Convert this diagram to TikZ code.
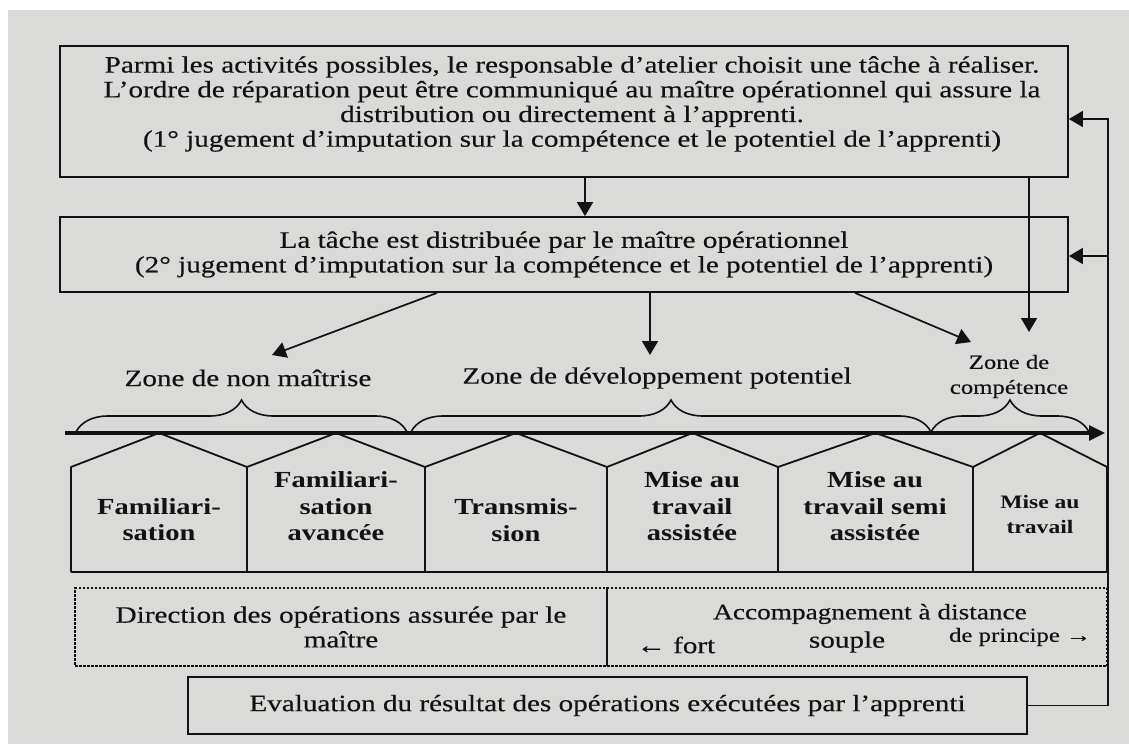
\documentclass[tikz,border=0pt]{standalone}
\usepackage{fontspec}
\setmainfont{Liberation Serif}[FakeStretch=1.24,UprightFeatures={FakeBold=0.35}]
\usetikzlibrary{arrows.meta,decorations.pathreplacing}
\definecolor{paper}{HTML}{DADAD8}
\definecolor{ink}{HTML}{121212}

\begin{document}
\begin{tikzpicture}[x=1pt,y=-1pt,color=ink,
    box/.style={draw,line width=1.8pt,inner sep=0pt},
    dbox/.style={draw,dash pattern=on 2.5pt off 1.5pt,line width=1.1pt,inner sep=0pt},
    arr/.style={line width=1.7pt,-{Triangle[length=14pt,width=16pt]}},
    txt/.style={align=center,font=\fontsize{23.5}{24.7}\selectfont},
    house/.style={align=center,font=\fontsize{23}{26.5}\selectfont\bfseries},
    zbrace/.style={decorate,decoration={brace,amplitude=32pt},line width=1.6pt}]
    \fill[white] (0,0) rectangle (1129,744);
    \fill[paper] (8,10) rectangle (1129,744);
    \useasboundingbox (0,0) rectangle (1129,744);

    % the two boxes at the top
    \node (choix) [box,minimum width=1008pt,minimum height=131pt] at (564,111.5) {};
    \node (choixTxt) [txt] at (572,104) {Parmi les activités possibles, le responsable d'atelier choisit une tâche à réaliser.\\
        L'ordre de réparation peut être communiqué au maître opérationnel qui assure la\\
        distribution ou directement à l'apprenti.\\
        (1° jugement d'imputation sur la compétence et le potentiel de l'apprenti)};
    \node (distrib) [box,txt,minimum width=1008pt,minimum height=75pt] at (564,254.5) {La tâche est distribuée par le maître opérationnel\\
        (2° jugement d'imputation sur la compétence et le potentiel de l'apprenti)};
    \draw[arr] (choix.south -| 585,0) -- (distrib.north -| 585,0);

    % zones
    \node (zNon) [txt] at (248,378) {Zone de non maîtrise};
    \node (zDev) [txt] at (657,378) {Zone de développement potentiel};
    \node (zComp) [align=center,font=\fontsize{20}{25}\selectfont] at (1009,376.5) {Zone de\\ compétence};
    \coordinate (tNon) at (272,355);
    \coordinate (tDev) at (650,355);
    \coordinate (tComp) at (971,342);
    \coordinate (tFin) at (1029,332);
    \draw[arr] (distrib.south -| 437,0) -- (tNon);
    \draw[arr] (distrib.south -| 650,0) -- (tDev);
    \draw[arr] (distrib.south -| 855,0) -- (tComp);
    \draw[arr] (choix.south -| 1029,0) -- (tFin);

    \draw[zbrace] (76,432) -- (407,432);
    \draw[zbrace] (411,432) -- (931,432);
    \draw[zbrace] (931,432) -- (1089,432);
    \draw[line width=3.2pt,-{Triangle[length=16pt,width=15pt]}] (65,433) -- (1105,433);

    % houses
    \foreach \l/\r in {71/247,247/425,425/607,607/778,778/973,973/1107}
        \draw[line width=1.8pt,line join=round] (\l,572) -- (\l,467) -- ({(\l+\r)/2},433) -- (\r,467) -- (\r,572);
    \draw[line width=1.8pt] (71,572) -- (1107,572);
    \node (h1) [house] at (159,519.5) {Familiari-\\sation};
    \node (h2) [house] at (336,506.5) {Familiari-\\sation\\avancée};
    \node (h3) [house] at (516,520) {Transmis-\\sion};
    \node (h4) [house] at (692,506.5) {Mise au\\travail\\assistée};
    \node (h5) [house] at (875,506.5) {Mise au\\travail semi\\assistée};
    \node (h6) [house,font=\fontsize{19}{25}\selectfont\bfseries] at (1040,514.5) {Mise au\\travail};

    % guidance
    \node (dir) [dbox,txt,minimum width=532pt,minimum height=78pt] at (341,627) {Direction des opérations assurée par le\\ maître};
    \node (acc) [dbox,minimum width=500pt,minimum height=78pt] at (857,627) {};
    \node (accTxt) [align=center,font=\fontsize{22}{24}\selectfont] at (870,614) {Accompagnement à distance};
    \node (fort) [txt] at (676,645) {← fort};
    \node (souple) [txt] at (847,642) {souple};
    \node (principe) [align=center,font=\fontsize{20}{24}\selectfont] at (1020,637) {de principe →};

    % evaluation and feedback
    \node (eval) [box,txt,minimum width=839pt,minimum height=57pt] at (607.5,705.5) {Evaluation du résultat des opérations exécutées par l'apprenti};
    \coordinate (retour) at (1108,119);
    \draw[arr] (eval.east) -| (retour) -- (choix.east |- retour);
    \draw[arr] (retour |- 0,256) -- (distrib.east |- 0,256);
\end{tikzpicture}
\end{document}
